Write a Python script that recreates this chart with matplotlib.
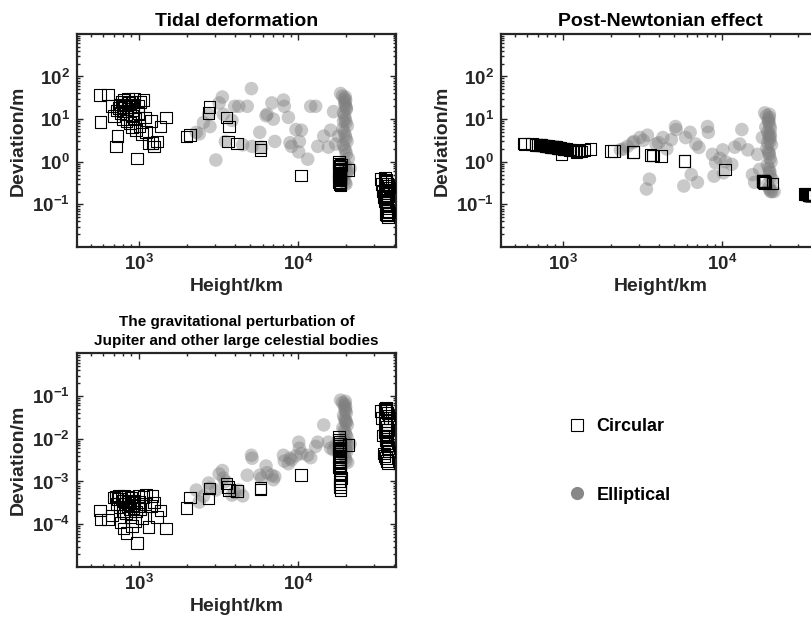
import numpy as np
import matplotlib
matplotlib.use("Agg")
import matplotlib.pyplot as plt
from matplotlib.lines import Line2D
from matplotlib.ticker import LogLocator, NullFormatter

plt.rcParams['font.family'] = ['Liberation Sans', 'DejaVu Sans']
plt.rcParams['font.weight'] = 'bold'
plt.rcParams['mathtext.fontset'] = 'custom'
plt.rcParams['mathtext.rm'] = 'Liberation Sans:bold'
plt.rcParams['mathtext.it'] = 'Liberation Sans:bold'
plt.rcParams['mathtext.bf'] = 'Liberation Sans:bold'
plt.rcParams['mathtext.sf'] = 'Liberation Sans:bold'
plt.rcParams['mathtext.default'] = 'bf'

# ---- circular orbits (squares): height in km, shared by the three panels
circ_height = [570, 640, 575, 680, 700, 720, 730, 750, 760, 770, 780, 790, 800, 805, 810, 820,
               830, 840, 850, 860, 870, 880, 890, 900, 905, 910, 920, 930, 940, 950, 960, 980,
               990, 1000, 1010, 1020, 1050, 1070, 1100, 1110, 1150, 1200, 1220, 1250, 1300, 1370,
               1490, 735,
               2000, 2100, 2750, 2780, 3550, 3650, 3700, 4150, 5800, 5820, 10400,
               18000, 18100, 18200, 18300, 18400, 18500, 18150, 18250, 18350, 18450, 18050, 18200,
               18300, 18400, 18500, 18100, 18250, 18350, 18450, 18550, 18200, 18300, 18400, 18500,
               20700,
               33000, 33500, 34000, 34500, 35000, 35500, 36000, 36500, 37000, 37500, 35200, 35800,
               36200, 36800, 35000, 35600, 36000, 36400, 35400, 35900, 36300, 36700, 37200, 34800,
               35700, 36100, 36600, 35500]

circ_tidal = [37, 38, 8.5, 20, 12, 2.3, 16, 18, 22, 14, 25, 10, 19, 15, 28, 21,
              13, 9, 17, 30, 24, 8, 19, 26, 12, 6.5, 22, 16, 30, 10, 5.5, 1.2,
              20, 14, 7, 25, 4.5, 28, 11, 5, 2.8, 9, 2.8, 2.3, 3.0, 6.7,
              11, 4,
              3.9, 4.3, 14, 19.5, 10.9, 3.0, 6.7, 2.7, 2.2, 1.9, 0.48,
              1.0, 0.9, 0.8, 0.75, 0.7, 0.65, 0.6, 0.55, 0.5, 0.48, 0.45, 0.42,
              0.4, 0.38, 0.36, 0.34, 0.32, 0.3, 0.28, 0.85, 0.62, 0.52, 0.44, 0.33,
              0.65,
              0.4, 0.3, 0.2, 0.15, 0.42, 0.38, 0.35, 0.3, 0.28, 0.25, 0.22, 0.2,
              0.18, 0.16, 0.14, 0.13, 0.12, 0.11, 0.1, 0.09, 0.08, 0.07, 0.065, 0.12,
              0.06, 0.055, 0.05, 0.33]

circ_pn = [2.7, 2.6, 2.6, 2.5, 2.5, 2.45, 2.45, 2.4, 2.4, 2.4, 2.35, 2.35, 2.3, 2.4, 2.3, 2.3,
           2.3, 2.25, 2.3, 2.25, 2.2, 2.2, 2.2, 2.2, 2.15, 2.2, 2.15, 2.1, 2.1, 2.1, 2.1, 1.5,
           2.05, 2.05, 2.0, 2.0, 2.0, 1.95, 1.95, 1.9, 1.9, 1.85, 1.7, 1.8, 1.75, 1.9,
           2.0, 2.45,
           1.8, 1.8, 1.7, 1.7, 1.45, 1.4, 1.4, 1.35, 1.05, 1.05, 0.66,
           0.35, 0.35, 0.34, 0.34, 0.34, 0.34, 0.35, 0.34, 0.33, 0.33, 0.35, 0.34,
           0.34, 0.33, 0.33, 0.35, 0.34, 0.33, 0.33, 0.32, 0.34, 0.34, 0.33, 0.33,
           0.31,
           0.175, 0.174, 0.172, 0.17, 0.168, 0.167, 0.165, 0.164, 0.163, 0.162, 0.168, 0.166,
           0.165, 0.163, 0.168, 0.166, 0.165, 0.164, 0.167, 0.166, 0.165, 0.164, 0.163, 0.169,
           0.166, 0.165, 0.164, 0.167]

circ_grav = [2.1e-4, 1.3e-4, 1.3e-4, 1.6e-4, 4.2e-4, 4.3e-4, 3e-4, 4.5e-4, 2.5e-4, 1.1e-4,
             4.0e-4, 3.5e-4, 2.0e-4, 8e-5, 4.6e-4, 3.0e-4, 1.8e-4, 6.2e-5, 2.6e-4, 4.4e-4,
             3.3e-4, 2.2e-4, 1.5e-4, 4.2e-4, 2.8e-4, 9e-5, 3.6e-4, 2.4e-4, 3.1e-4, 1.2e-4,
             2.0e-4, 3.6e-5, 2.7e-4, 4.5e-4, 3.3e-4, 2.3e-4, 1.4e-4, 4.3e-4, 3.0e-4, 5.0e-4,
             8.5e-5, 2.7e-4, 4.5e-4, 3.2e-4, 1.5e-4, 2.1e-4, 8e-5, 3.9e-4,
             2.4e-4, 4.2e-4, 4.0e-4, 6.8e-4, 9.0e-4, 7.5e-4, 6.3e-4, 6.0e-4, 7.0e-4, 6.5e-4, 1.4e-3,
             0.011, 0.0095, 0.0085, 0.0075, 0.0068, 0.006, 0.0055, 0.005, 0.0045, 0.004, 0.0037,
             0.0034, 0.003, 0.0027, 0.0024, 0.0022, 0.002, 0.0018, 0.0015, 0.0012, 0.001,
             0.00085, 0.00075, 0.00063, 0.0072,
             0.045, 0.03, 0.012, 0.0045, 0.05, 0.048, 0.045, 0.04, 0.035, 0.03, 0.026, 0.022,
             0.019, 0.016, 0.014, 0.012, 0.011, 0.01, 0.009, 0.008, 0.007, 0.006, 0.005, 0.004,
             0.0035, 0.003, 0.0027, 0.052]

# ---- elliptical orbits (filled circles): height in km, shared by the three panels
ell_height = [2300, 2400, 2550, 2750, 2800, 3050, 3200, 3350, 3400, 3500, 3850, 4000, 4250,
              4500, 4800, 5100, 5150, 5750, 5900, 6300, 6400, 6850, 7000, 7150, 8100, 8200,
              8700, 8900, 9100, 9700, 10100, 10200, 10500, 11500, 12000, 12900, 13300, 14500,
              15500, 16000, 16700, 17200, 17900,
              18500, 19000, 19500, 19700, 19900, 20100, 19300, 19600, 19800, 20000, 20400, 19100,
              19500, 19800, 20000, 20300, 19200, 19600, 19900, 20100, 20700, 19400, 19700, 19900,
              20200, 18800, 19500, 19800, 20000, 20500, 19300, 19700, 19900, 20100, 21200, 19800]

ell_tidal = [4.9, 4.5, 8.3, 12.8, 6.7, 1.1, 24, 33, 13, 3.0, 9.3, 20, 20,
             2.5, 20, 52, 2.3, 4.9, 2.2, 12, 13, 24, 10, 3.0, 28, 20,
             11, 2.8, 2.3, 5.7, 1.7, 3.0, 5.5, 1.15, 20, 20, 2.3, 4.0,
             2.2, 5.5, 15, 2.6, 4.0,
             40, 35, 30, 25, 20, 17, 14, 12, 10, 8.5, 7, 6,
             5, 4.2, 3.5, 3.0, 2.5, 2.1, 1.8, 1.5, 1.2, 1.0, 0.85, 0.7,
             0.55, 0.45, 0.38, 0.32, 0.3, 0.6, 9, 22, 28, 18, 0.7, 33]

ell_pn = [1.9, 2.0, 2.3, 2.8, 3.0, 3.7, 3.2, 0.23, 4.2, 0.39, 2.6, 2.8, 3.7,
          2.0, 3.3, 6.7, 5.7, 0.27, 3.7, 4.9, 0.5, 2.6, 0.33, 2.17, 6.7, 4.9,
          1.49, 0.46, 0.95, 1.2, 1.9, 0.55, 1.0, 0.87, 2.2, 2.6, 5.7, 1.9,
          0.5, 0.33, 1.49, 0.66, 3.7,
          14, 12, 10, 8.5, 7, 6, 5, 4.2, 3.5, 3.0, 2.5, 2.1,
          1.8, 1.5, 1.2, 1.0, 0.85, 0.7, 0.55, 0.45, 0.38, 0.3, 0.25, 0.22,
          0.2, 6.5, 9, 11, 4.5, 0.2, 2.8, 1.6, 0.6, 3.8, 0.2, 13]

ell_grav = [6.3e-4, 3.3e-4, 4.5e-4, 9.2e-4, 7e-4, 6.3e-4, 1.5e-3, 1.8e-3, 1.2e-3, 1.0e-3,
            4.8e-4, 5.5e-4, 6.3e-4, 4.6e-4, 1.4e-3, 4.1e-3, 3.5e-3, 1.4e-3, 1.2e-3, 2.3e-3,
            1.6e-3, 1.4e-3, 1.1e-3, 1.3e-3, 4.1e-3, 3.0e-3, 2.6e-3, 3.5e-3, 3.2e-3, 4.0e-3,
            8.3e-3, 6.0e-3, 4.5e-3, 4.1e-3, 3.6e-3, 6.6e-3, 8.3e-3, 2.1e-2, 8.3e-3, 6.0e-3,
            5.5e-3, 7.0e-3, 5.0e-3,
            0.08, 0.07, 0.06, 0.05, 0.045, 0.04, 0.035, 0.03, 0.027, 0.024, 0.021, 0.018,
            0.016, 0.014, 0.012, 0.011, 0.010, 0.009, 0.008, 0.0075, 0.007, 0.0065, 0.006, 0.0055,
            0.005, 0.0045, 0.004, 0.0035, 0.003, 0.0028, 0.008, 0.065, 0.055, 0.025, 0.0075, 0.075]

titles = ['Tidal deformation', 'Post-Newtonian effect',
          'The gravitational perturbation of\nJupiter and other large celestial bodies']
ytick_exps = [[-1, 0, 1, 2], [-1, 0, 1, 2], [-4, -3, -2, -1]]
ylims = [(1e-2, 1e3), (1e-2, 1e3), (1e-5, 1e0)]
legend_labels = ['Circular', 'Elliptical']

fig = plt.figure(figsize=(8.11, 6.27), dpi=100)
ax_tl = fig.add_axes([0.0949, 0.606, 0.393, 0.340])
ax_tr = fig.add_axes([0.6178, 0.606, 0.393, 0.340])
ax_bl = fig.add_axes([0.0949, 0.0957, 0.393, 0.341])

axis_col = '#262626'
panels = [(ax_tl, circ_tidal, ell_tidal), (ax_tr, circ_pn, ell_pn), (ax_bl, circ_grav, ell_grav)]
for i, (ax, cy, ey) in enumerate(panels):
    # elliptical orbits: translucent grey dots; circular orbits: open squares on top
    ax.scatter(ell_height, ey, s=95, c='#7f7f7f', alpha=0.42, edgecolors='none', zorder=2)
    ax.scatter(circ_height, cy, s=70, marker='s', facecolors='none', edgecolors='black',
               linewidths=0.8, zorder=3)
    ax.set_xscale('log')
    ax.set_yscale('log')
    ax.set_xlim(410, 41000)
    ax.set_ylim(*ylims[i])
    ax.set_xticks([1e3, 1e4], labels=[r'$10^{3}$', r'$10^{4}$'])
    ax.set_yticks([10.0 ** e for e in ytick_exps[i]],
                  labels=[r'$10^{%d}$' % e for e in ytick_exps[i]])
    ax.xaxis.set_minor_locator(LogLocator(base=10, subs=np.arange(2, 10), numticks=20))
    ax.yaxis.set_minor_locator(LogLocator(base=10, subs=np.arange(2, 10), numticks=20))
    ax.xaxis.set_minor_formatter(NullFormatter())
    ax.yaxis.set_minor_formatter(NullFormatter())
    ax.tick_params(which='both', direction='in', top=True, right=True, colors=axis_col,
                   labelsize=13.5, width=1.0)
    ax.tick_params(which='major', length=4, pad=5)
    ax.tick_params(which='minor', length=2)
    for sp in ax.spines.values():
        sp.set_linewidth(1.6)
        sp.set_color(axis_col)
    ax.set_xlabel('Height/km', fontsize=14, fontweight='bold', color=axis_col, labelpad=3)
    ax.set_ylabel('Deviation/m', fontsize=14, fontweight='bold', color=axis_col, labelpad=4)
    ax.set_title(titles[i], fontsize=14 if i < 2 else 11, fontweight='bold', pad=6,
                 linespacing=1.4)

handles = [Line2D([], [], marker='s', linestyle='none', markerfacecolor='none',
                  markeredgecolor='black', markeredgewidth=0.8, markersize=8),
           Line2D([], [], marker='o', linestyle='none', markerfacecolor='#888888',
                  markeredgecolor='none', markersize=9.5)]
fig.legend(handles, legend_labels, loc='center left', bbox_to_anchor=(0.700, 0.265),
           frameon=False, fontsize=13, labelspacing=2.85, handlelength=1.0,
           handletextpad=0.6, borderpad=0, borderaxespad=0)

fig.savefig('out.png', dpi=100)
